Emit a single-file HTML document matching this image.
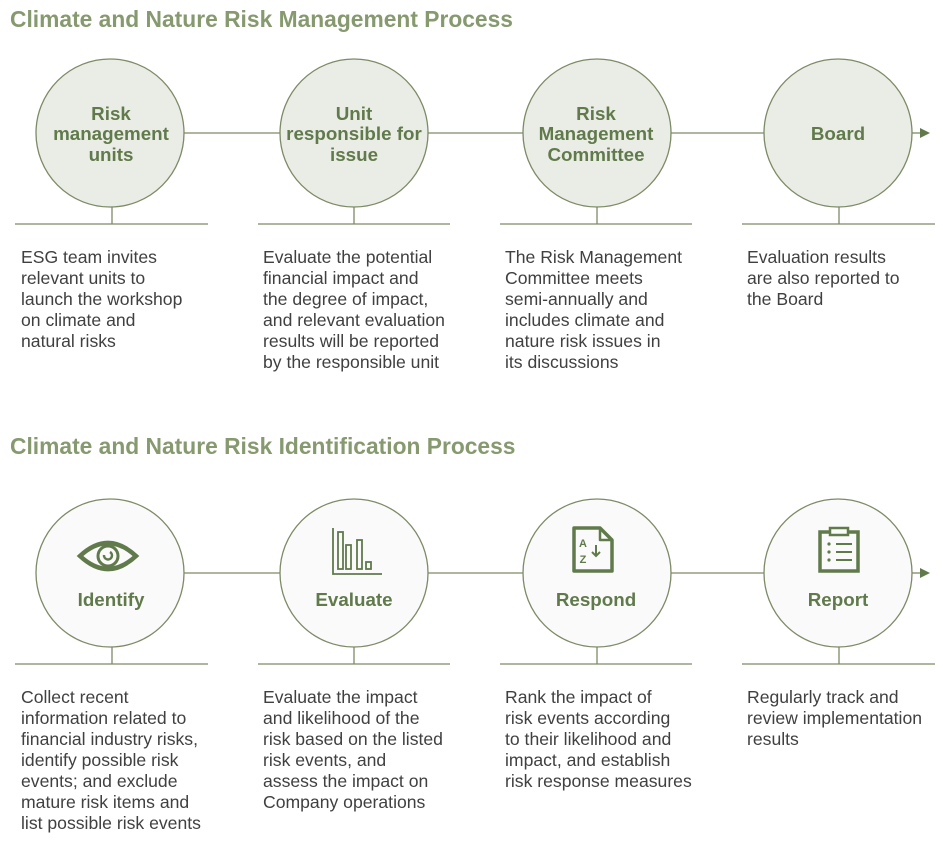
<!DOCTYPE html>
<html><head><meta charset="utf-8"><style>
body{margin:0;width:943px;height:843px;background:#fff;font-family:"Liberation Sans",Arial,sans-serif;position:relative;overflow:hidden}
.h{position:absolute;left:10px;font-size:22.8px;font-weight:bold;color:#86996f;white-space:nowrap}
.t{position:absolute;font-size:17.6px;line-height:21px;color:#404040;white-space:nowrap}
.lbl{font-family:"Liberation Sans",Arial,sans-serif;font-weight:bold;font-size:18.8px;fill:#617a4c;text-anchor:middle}
svg{position:absolute;left:0;top:0}
</style></head><body>
<svg width="943" height="843">
<g stroke="#7d8a66" stroke-width="1.3" fill="none">
<line x1="184" y1="133" x2="280" y2="133"/><line x1="428" y1="133" x2="523" y2="133"/><line x1="671" y1="133" x2="764" y2="133"/><line x1="912" y1="133" x2="920" y2="133"/>
<line x1="184" y1="573" x2="280" y2="573"/><line x1="428" y1="573" x2="523" y2="573"/><line x1="671" y1="573" x2="764" y2="573"/><line x1="912" y1="573" x2="920" y2="573"/>
<line x1="15" y1="224" x2="208" y2="224"/><line x1="258" y1="224" x2="450" y2="224"/><line x1="500" y1="224" x2="692" y2="224"/><line x1="742" y1="224" x2="935" y2="224"/>
<line x1="15" y1="664" x2="208" y2="664"/><line x1="258" y1="664" x2="450" y2="664"/><line x1="500" y1="664" x2="692" y2="664"/><line x1="742" y1="664" x2="935" y2="664"/>
<line x1="112" y1="207" x2="112" y2="224"/><line x1="354" y1="207" x2="354" y2="224"/><line x1="597" y1="207" x2="597" y2="224"/><line x1="839" y1="207" x2="839" y2="224"/>
<line x1="112" y1="647" x2="112" y2="664"/><line x1="354" y1="647" x2="354" y2="664"/><line x1="597" y1="647" x2="597" y2="664"/><line x1="839" y1="647" x2="839" y2="664"/>
</g>
<g fill="#eaede5" stroke="#7d8a66" stroke-width="1.3">
<circle cx="110" cy="133" r="74"/><circle cx="354" cy="133" r="74"/><circle cx="597" cy="133" r="74"/><circle cx="838" cy="133" r="74"/>
</g>
<g fill="#fafafa" stroke="#7d8a66" stroke-width="1.3">
<circle cx="110" cy="573" r="74"/><circle cx="354" cy="573" r="74"/><circle cx="597" cy="573" r="74"/><circle cx="838" cy="573" r="74"/>
</g>
<polygon points="920,128 930,133 920,138" fill="#617a4c"/>
<polygon points="920,568 930,573 920,578" fill="#617a4c"/>
<text class="lbl"><tspan x="111" y="120">Risk</tspan><tspan x="111" y="140">management</tspan><tspan x="111" y="161">units</tspan></text>
<text class="lbl"><tspan x="354" y="120">Unit</tspan><tspan x="354" y="140">responsible for</tspan><tspan x="354" y="161">issue</tspan></text>
<text class="lbl"><tspan x="596" y="120">Risk</tspan><tspan x="596" y="140">Management</tspan><tspan x="596" y="161">Committee</tspan></text>
<text class="lbl" x="838" y="140">Board</text>
<text class="lbl" x="111" y="606">Identify</text>
<text class="lbl" x="354" y="606">Evaluate</text>
<text class="lbl" x="596" y="606">Respond</text>
<text class="lbl" x="838" y="606">Report</text>
<g stroke="#617a4c" fill="none" stroke-width="4.5">
<path d="M80 556 Q108 530 136 556 Q108 582 80 556Z"/><circle cx="108" cy="556" r="10" stroke-width="3"/>
<path d="M104 555 a4 4 0 1 0 6 -3" stroke-width="2.5"/>
</g>
<g stroke="#617a4c" fill="none" stroke-width="1.8">
<path d="M333 528 V574 H382"/><rect x="338" y="532" width="5" height="37"/><rect x="346" y="545" width="5" height="24"/><rect x="357" y="540" width="5" height="29"/><rect x="366" y="562" width="5" height="7"/>
</g>
<g stroke="#617a4c" fill="none" stroke-width="3.5" stroke-linejoin="round">
<path d="M574 528 H600 L612 540 V571 H574 Z"/><path d="M600 528 V540 H612" stroke-width="2.5"/>
</g>
<text x="583" y="547" font-family="Liberation Sans" font-weight="bold" font-size="11" fill="#617a4c" text-anchor="middle">A</text>
<text x="583" y="563" font-family="Liberation Sans" font-weight="bold" font-size="11" fill="#617a4c" text-anchor="middle">Z</text>
<path d="M596 545 V556 M592 552 L596 556 L600 552" stroke="#617a4c" stroke-width="2" fill="none"/>
<g stroke="#617a4c" fill="none" stroke-width="3.5">
<rect x="820" y="532" width="38" height="39"/><rect x="830" y="528" width="18" height="7" fill="#fafafa" stroke-width="2.5"/>
<g stroke-width="2"><line x1="836" y1="544" x2="852" y2="544"/><line x1="836" y1="552" x2="852" y2="552"/><line x1="836" y1="560" x2="852" y2="560"/></g>
</g>
<g fill="#617a4c"><circle cx="829" cy="544" r="1.6"/><circle cx="829" cy="552" r="1.6"/><circle cx="829" cy="560" r="1.6"/></g>
</svg>
<div class="h" style="top:6px">Climate and Nature Risk Management Process</div>
<div class="h" style="top:433px">Climate and Nature Risk Identification Process</div>
<div class="t" style="left:21px;top:247px">ESG team invites<br>relevant units to<br>launch the workshop<br>on climate and<br>natural risks</div>
<div class="t" style="left:263px;top:247px">Evaluate the potential<br>financial impact and<br>the degree of impact,<br>and relevant evaluation<br>results will be reported<br>by the responsible unit</div>
<div class="t" style="left:505px;top:247px">The Risk Management<br>Committee meets<br>semi-annually and<br>includes climate and<br>nature risk issues in<br>its discussions</div>
<div class="t" style="left:747px;top:247px">Evaluation results<br>are also reported to<br>the Board</div>
<div class="t" style="left:21px;top:687px">Collect recent<br>information related to<br>financial industry risks,<br>identify possible risk<br>events; and exclude<br>mature risk items and<br>list possible risk events</div>
<div class="t" style="left:263px;top:687px">Evaluate the impact<br>and likelihood of the<br>risk based on the listed<br>risk events, and<br>assess the impact on<br>Company operations</div>
<div class="t" style="left:505px;top:687px">Rank the impact of<br>risk events according<br>to their likelihood and<br>impact, and establish<br>risk response measures</div>
<div class="t" style="left:747px;top:687px">Regularly track and<br>review implementation<br>results</div>
</body></html>
